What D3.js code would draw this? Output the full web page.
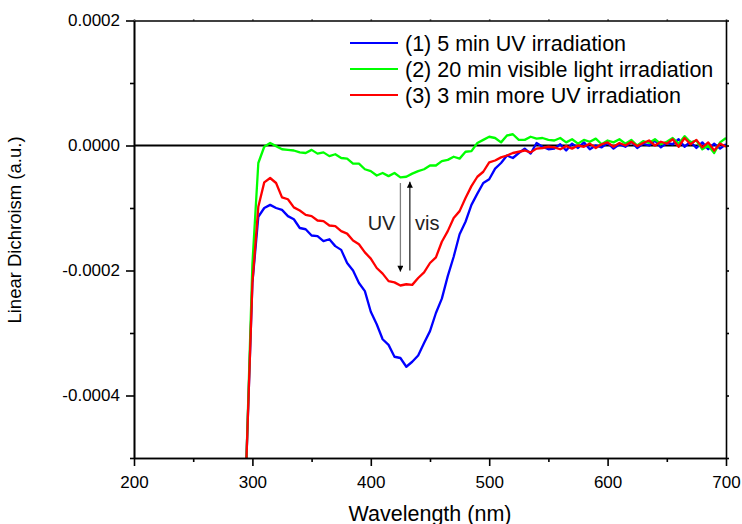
<!DOCTYPE html>
<html>
<head>
<meta charset="utf-8">
<script src="https://cdn.jsdelivr.net/npm/d3@7"></script>
<style>
  body { margin: 0; background: #fff; }
  text { font-family: "Liberation Sans", Arial, sans-serif; }
</style>
</head>
<body>
<div id="chart"></div>
<script>
// values are in units of 1e-4 (a.u.)
var unit = 1e-4;

var wavelength = [295, 300, 305, 310, 315, 320, 325, 330, 335, 340, 345, 350, 355, 360, 365, 370, 375, 380,
  385, 390, 395, 400, 405, 410, 415, 420, 425, 430, 435, 440, 445, 450, 455, 460, 465, 470, 475, 480,
  485, 490, 495, 500, 505, 510, 515, 520, 525, 530, 535, 540, 545, 550, 555, 560, 565, 570, 575, 580,
  585, 590, 595, 600, 605, 610, 615, 620, 625, 630, 635, 640, 645, 650, 655, 660, 665, 670, 675, 680,
  685, 690, 695, 700];

// (1) 5 min UV irradiation
var uv5 = [-5.0, -2.2, -1.14, -1.0, -0.95, -1.0, -1.03, -1.13, -1.18, -1.32, -1.34, -1.44, -1.45, -1.53, -1.5, -1.61, -1.67, -1.88,
  -2.0, -2.2, -2.33, -2.66, -2.86, -3.1, -3.19, -3.38, -3.4, -3.54, -3.46, -3.36, -3.16, -2.97, -2.68, -2.45, -2.09, -1.78, -1.42, -1.22,
  -0.95, -0.77, -0.6, -0.54, -0.37, -0.28, -0.16, -0.2, -0.12, -0.05, -0.13, 0.04, -0.02, -0.06, -0.05, 0.02, -0.08, 0.03, -0.04, 0.05,
  -0.06, 0.0, -0.03, 0.04, -0.05, 0.02, -0.02, 0.06, -0.04, 0.03, 0.0, 0.08, -0.03, 0.04, 0.02, 0.1, -0.02, 0.06, -0.04, 0.05,
  -0.06, 0.03, -0.05, 0.02];

// (2) 20 min visible light irradiation
var vis20 = [-5.0, -1.9, -0.28, -0.02, 0.04, -0.01, -0.06, -0.07, -0.08, -0.11, -0.12, -0.07, -0.13, -0.11, -0.17, -0.14, -0.2, -0.21,
  -0.29, -0.29, -0.38, -0.41, -0.48, -0.44, -0.49, -0.44, -0.51, -0.5, -0.45, -0.41, -0.38, -0.32, -0.32, -0.25, -0.23, -0.18, -0.21, -0.1,
  -0.09, 0.04, 0.09, 0.14, 0.12, 0.05, 0.16, 0.18, 0.09, 0.09, 0.14, 0.11, 0.12, 0.09, 0.08, 0.12, 0.05, 0.1, 0.03, 0.09,
  0.06, 0.11, 0.02, 0.08, 0.05, 0.1, 0.03, 0.09, 0.0, 0.07, 0.04, 0.1, 0.02, 0.06, 0.12, 0.03, 0.15, 0.05, 0.08, -0.06,
  0.0, -0.12, 0.05, 0.12];

// (3) 3 min more UV irradiation
var uv3 = [-5.0, -2.2, -0.98, -0.59, -0.52, -0.6, -0.83, -0.86, -0.99, -1.04, -1.11, -1.13, -1.2, -1.21, -1.28, -1.29, -1.37, -1.41,
  -1.52, -1.58, -1.71, -1.81, -1.96, -2.05, -2.17, -2.19, -2.24, -2.22, -2.23, -2.12, -2.03, -1.88, -1.79, -1.54, -1.37, -1.16, -1.05, -0.84,
  -0.65, -0.5, -0.42, -0.27, -0.24, -0.19, -0.16, -0.12, -0.1, -0.08, -0.11, -0.05, -0.04, -0.02, -0.03, -0.06, -0.01, -0.05, 0.0, -0.02,
  0.03, -0.04, 0.02, 0.05, -0.02, 0.04, 0.0, 0.06, -0.01, 0.04, 0.08, 0.0, 0.06, 0.03, 0.1, -0.02, 0.12, 0.02, 0.09, -0.03,
  0.05, -0.08, 0.03, -0.02];

var seriesNames = ["(1) 5 min UV irradiation", "(2) 20 min visible light irradiation", "(3) 3 min more UV irradiation"];
var seriesColors = ["#0000ff", "#00ff00", "#ff0000"];
var seriesValues = [uv5, vis20, uv3];

var xMajor = [200, 300, 400, 500, 600, 700];
var xMinor = [250, 350, 450, 550, 650];
var yMajor = [-0.0004, -0.0002, 0.0000, 0.0002];
var yMinor = [-0.0005, -0.0003, -0.0001, 0.0001];

var svgWidth = 742;
var svgHeight = 524;
var margin = { top: 20.5, right: 16, bottom: 66, left: 134 };
var width = svgWidth - margin.left - margin.right;
var height = svgHeight - margin.top - margin.bottom;

var svg = d3.select("#chart")
  .append("svg")
  .attr("width", svgWidth)
  .attr("height", svgHeight);

var chartGroup = svg.append("g")
  .attr("transform", `translate(${margin.left}, ${margin.top})`);

var xLinearScale = d3.scaleLinear().domain([200, 700]).range([0, width]);
var yLinearScale = d3.scaleLinear().domain([-0.0005, 0.0002]).range([height, 0]);

var defs = svg.append("defs");
defs.append("clipPath")
  .attr("id", "plotClip")
  .append("rect")
  .attr("width", width)
  .attr("height", height);

defs.append("marker")
  .attr("id", "head")
  .attr("markerUnits", "userSpaceOnUse")
  .attr("viewBox", "0 0 10 10")
  .attr("refX", 10).attr("refY", 5)
  .attr("markerWidth", 11).attr("markerHeight", 6)
  .attr("orient", "auto")
  .append("path")
  .attr("d", "M0,0 L10,5 L0,10 Z")
  .attr("fill", "#000");

// zero line
chartGroup.append("line")
  .attr("x1", 0).attr("x2", width)
  .attr("y1", yLinearScale(0)).attr("y2", yLinearScale(0))
  .attr("stroke", "#000").attr("stroke-width", 1.8);

// curves
var line = d3.line()
  .x((d, i) => xLinearScale(wavelength[i]))
  .y(d => yLinearScale(d * unit));

var curveGroup = chartGroup.append("g").attr("clip-path", "url(#plotClip)");
seriesValues.forEach(function (vals, k) {
  curveGroup.append("path")
    .datum(vals)
    .attr("d", line)
    .attr("fill", "none")
    .attr("stroke", seriesColors[k])
    .attr("stroke-width", 2.3)
    .attr("stroke-linejoin", "round");
});

// axes
function styleAxis(g) {
  g.selectAll("path.domain").attr("stroke", "#000").attr("stroke-width", 1.6);
  g.selectAll(".tick line").attr("stroke", "#000").attr("stroke-width", 1.6);
  g.selectAll("text").attr("font-size", "17px").attr("fill", "#000")
    .attr("font-family", "'Liberation Sans', Arial, sans-serif");
}

chartGroup.append("g")
  .attr("transform", `translate(0, ${height})`)
  .call(d3.axisBottom(xLinearScale).tickValues(xMajor).tickSize(8).tickPadding(10).tickSizeOuter(0).tickFormat(d3.format("d")))
  .call(styleAxis);
chartGroup.append("g")
  .attr("transform", `translate(0, ${height})`)
  .call(d3.axisBottom(xLinearScale).tickValues(xMinor).tickSize(4).tickSizeOuter(0).tickFormat(""))
  .call(styleAxis);

chartGroup.append("g")
  .call(d3.axisLeft(yLinearScale).tickValues(yMajor).tickSize(8).tickPadding(6).tickSizeOuter(0).tickFormat(d => d.toFixed(4)))
  .call(styleAxis);
chartGroup.append("g")
  .call(d3.axisLeft(yLinearScale).tickValues(yMinor).tickSize(4).tickSizeOuter(0).tickFormat(""))
  .call(styleAxis);

chartGroup.append("g")
  .call(d3.axisTop(xLinearScale).tickValues(xMajor.concat(xMinor)).tickSize(1).tickSizeOuter(0).tickFormat(""))
  .call(styleAxis);
chartGroup.append("g")
  .attr("transform", `translate(${width}, 0)`)
  .call(d3.axisRight(yLinearScale).tickValues(yMajor.concat(yMinor)).tickSize(3).tickSizeOuter(0).tickFormat(""))
  .call(styleAxis);

// axis titles
chartGroup.append("text")
  .attr("x", width / 2)
  .attr("y", height + 63)
  .attr("text-anchor", "middle")
  .attr("font-size", "21.5px")
  .text("Wavelength (nm)");

chartGroup.append("text")
  .attr("transform", "rotate(-90)")
  .attr("x", -(230 - margin.top))
  .attr("y", 21 - margin.left)
  .attr("text-anchor", "middle")
  .attr("font-size", "18.5px")
  .text("Linear Dichroism (a.u.)");

// UV / vis arrows
chartGroup.append("line")
  .attr("x1", xLinearScale(425)).attr("x2", xLinearScale(425))
  .attr("y1", yLinearScale(-0.6 * unit)).attr("y2", yLinearScale(-2.02 * unit))
  .attr("stroke", "#808080").attr("stroke-width", 1.3)
  .attr("marker-end", "url(#head)");
chartGroup.append("line")
  .attr("x1", xLinearScale(433)).attr("x2", xLinearScale(433))
  .attr("y1", yLinearScale(-2.0 * unit)).attr("y2", yLinearScale(-0.58 * unit))
  .attr("stroke", "#000").attr("stroke-width", 1.1)
  .attr("marker-end", "url(#head)");

chartGroup.append("text")
  .attr("x", xLinearScale(420.8))
  .attr("y", yLinearScale(-1.35 * unit))
  .attr("text-anchor", "end")
  .attr("font-size", "20px")
  .attr("fill", "#222")
  .text("UV");
chartGroup.append("text")
  .attr("x", xLinearScale(437.3))
  .attr("y", yLinearScale(-1.35 * unit))
  .attr("font-size", "20px")
  .attr("fill", "#222")
  .text("vis");

// legend
var legend = svg.append("g").attr("transform", "translate(350, 43)");
seriesNames.forEach(function (name, k) {
  var row = legend.append("g").attr("transform", `translate(0, ${k * 26})`);
  row.append("line")
    .attr("x1", 0).attr("x2", 48)
    .attr("stroke", seriesColors[k]).attr("stroke-width", 2);
  row.append("text")
    .attr("x", 55)
    .attr("dy", "0.35em")
    .attr("font-size", "21.5px")
    .text(name);
});
</script>
</body>
</html>
